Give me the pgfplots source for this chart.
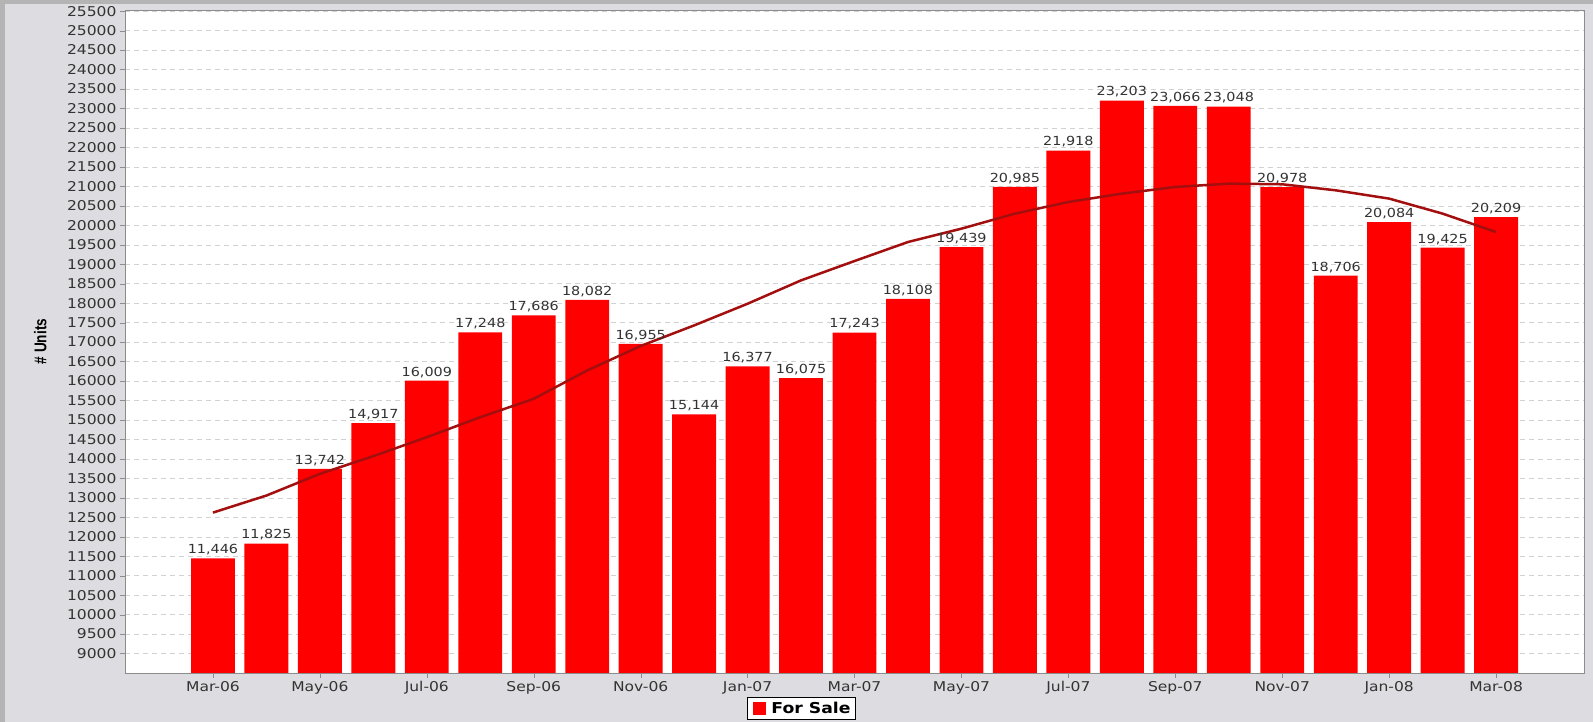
\documentclass[border=0pt]{standalone}
\usepackage{pgfplots}
\pgfplotsset{compat=1.18}
\usepackage{fontspec}
\setmainfont{DejaVu Sans}
\newfontfamily\wide[FakeStretch=1.15]{DejaVu Sans}
\newfontfamily\narrow[FakeStretch=0.8]{Liberation Sans}

\definecolor{bg}{HTML}{DDDDE1}
\definecolor{edge}{HTML}{B4B4B4}
\definecolor{trend}{HTML}{A30F0F}
\definecolor{txt}{HTML}{333333}
\definecolor{gridc}{HTML}{D2D2D2}
\definecolor{axc}{HTML}{8C8C8C}

% units for sale, Mar-06 .. Mar-08
\pgfplotstableread{
x  units
0  11446
1  11825
2  13742
3  14917
4  16009
5  17248
6  17686
7  18082
8  16955
9  15144
10 16377
11 16075
12 17243
13 18108
14 19439
15 20985
16 21918
17 23203
18 23066
19 23048
20 20978
21 18706
22 20084
23 19425
24 20209
}\forsale

\begin{document}
\begin{tikzpicture}[x=1bp,y=1bp]
\path[use as bounding box] (0,0) rectangle (1593,722);
\fill[bg] (0,0) rectangle (1593,722);
\fill[edge] (0,0) rectangle (5,722);
\fill[edge] (0,718) rectangle (1593,722);
\begin{axis}[
  at={(125bp,49bp)}, anchor=south west,
  scale only axis, width=1459bp, height=663bp,
  ybar, bar width=0.82,
  xmin=-1.645, xmax=25.645,
  ymin=8500, ymax=25530,
  ytick={9000,9500,...,25500},
  xtick={0,2,...,24},
  xticklabels={Mar-06,May-06,Jul-06,Sep-06,Nov-06,Jan-07,Mar-07,May-07,Jul-07,Sep-07,Nov-07,Jan-08,Mar-08},
  xtick pos=bottom, ytick pos=left,
  scaled y ticks=false,
  yticklabel style={/pgf/number format/1000 sep={}},
  /pgf/number format/assume math mode=true,
  ticklabel style={font=\wide\fontsize{13.5bp}{15bp}\selectfont, text=txt},
  tick align=outside,
  major tick length=5bp,
  tick style={axc},
  axis line style={axc},
  axis background/.style={fill=white},
  ymajorgrids,
  grid style={gridc, dash pattern=on 5bp off 4bp},
  ylabel={\narrow\bfseries\fontsize{17bp}{19bp}\selectfont \# Units},
  ylabel style={at={(axis description cs:-0.058,0.5)}, anchor=center, text=black},
  legend style={at={(axis description cs:0.4637,-0.036)}, anchor=north,
    draw=black, line width=1bp, fill=white, font=\wide\bfseries\fontsize{15bp}{17bp}\selectfont,
    inner xsep=3bp, inner ysep=2.5bp},
  legend image code/.code={\path (0bp,0bp) (19bp,0bp); \fill[red] (2bp,-6.5bp) rectangle (15bp,6.5bp);},
]
\addplot[fill=red, draw=none,
  nodes near coords={\pgfmathprintnumber[assume math mode=true,1000 sep={,}]{\pgfplotspointmeta}},
  nodes near coords style={font=\wide\fontsize{12.5bp}{14bp}\selectfont, text=txt, inner sep=3bp}]
  table[x=x, y=units] {\forsale};
\addlegendentry{For Sale}
% trend line
\addplot[sharp plot, trend, line width=2.5bp, forget plot] coordinates {
  (0,12620) (1,13058) (2,13615) (3,14070) (4,14557) (5,15071) (6,15543)
  (7,16271) (8,16900) (9,17428) (10,17985) (11,18585) (12,19082) (13,19570)
  (14,19913) (15,20299) (16,20598) (17,20813) (18,20984) (19,21070)
  (20,21053) (21,20898) (22,20685) (23,20299) (24,19826)
};
\end{axis}
\end{tikzpicture}
\end{document}
